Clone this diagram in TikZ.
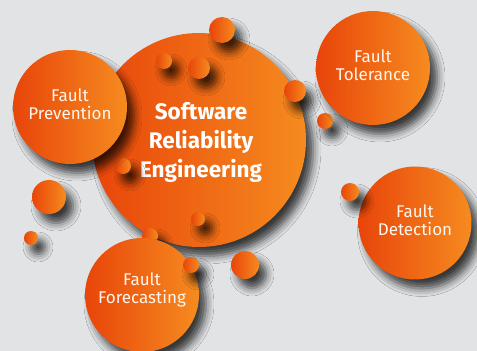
\documentclass[tikz,border=0pt]{standalone}
\usepackage{fontspec}
\setmainfont{Fira Sans}
\usetikzlibrary{shadows.blur}
\definecolor{bg}{HTML}{E1E3E5}
\definecolor{orL}{HTML}{E8450A}
\definecolor{orR}{HTML}{F68B1F}
\definecolor{txt}{HTML}{FFF6EE}
\tikzset{
  bubble/.style={circle, inner sep=0pt, draw=none, left color=orL, right color=orR,
    blur shadow={shadow xshift=7pt, shadow yshift=-9pt, shadow blur radius=8pt, shadow opacity=75},
    text=txt, align=center},
  label/.style={bubble},
  labeltext/.style={text=txt, font=\fontsize{17}{18}\selectfont, align=center},
  maintext/.style={text=white, font=\fontsize{22.5}{29}\selectfont\bfseries, align=center},
}
\begin{document}
\begin{tikzpicture}[x=1pt,y=1pt]
\fill[bg] (0,0) rectangle (477,351);
\useasboundingbox (0,0) rectangle (477,351);
\node[bubble, minimum size=214pt] (sre) at (199,{351-140}) {};
\node[maintext] (sret) at (201,{351-142}) {Software\\Reliability\\Engineering};
\node[bubble, minimum size=26pt] (s1) at (222,{351-30}) {};
\node[bubble, minimum size=16pt] (s2) at (164,{351-61}) {};
\node[bubble, minimum size=22pt] (s3) at (199,{351-68}) {};
\node[bubble, minimum size=22pt] (s4) at (295,{351-91}) {};
\node[bubble, minimum size=16pt] (s5) at (325,{351-121}) {};
\node[bubble, minimum size=16pt] (s6) at (123,{351-166}) {};
\node[bubble, minimum size=14pt] (s7) at (198,{351-219}) {};
\node[label, minimum size=114pt] (fp) at (70,{351-107}) {};
\node[labeltext] (fpt) at (70,{351-104}) {Fault\\Prevention};
\node[label, minimum size=114pt] (ft) at (373,{351-68}) {};
\node[labeltext] (ftt) at (373,{351-65}) {Fault\\Tolerance};
\node[label, minimum size=113pt] (fd) at (415,{351-223}) {};
\node[labeltext] (fdt) at (415,{351-220}) {Fault\\Detection};
\node[bubble, minimum size=34pt] (s8) at (49,{351-197}) {};
\node[bubble, minimum size=14pt] (s9) at (31,{351-238}) {};
\node[bubble, minimum size=18pt] (s10) at (350,{351-192}) {};
\node[bubble, minimum size=28pt] (s11) at (245,{351-265}) {};
\node[bubble, minimum size=16pt] (s12) at (150,{351-236}) {};
\node[label, minimum size=114pt] (ff) at (142,{351-295}) {};
\node[labeltext] (fft) at (142,{351-290}) {Fault\\Forecasting};
\node[bubble, minimum size=16pt] (s13) at (191,{351-265}) {};
\end{tikzpicture}
\end{document}
